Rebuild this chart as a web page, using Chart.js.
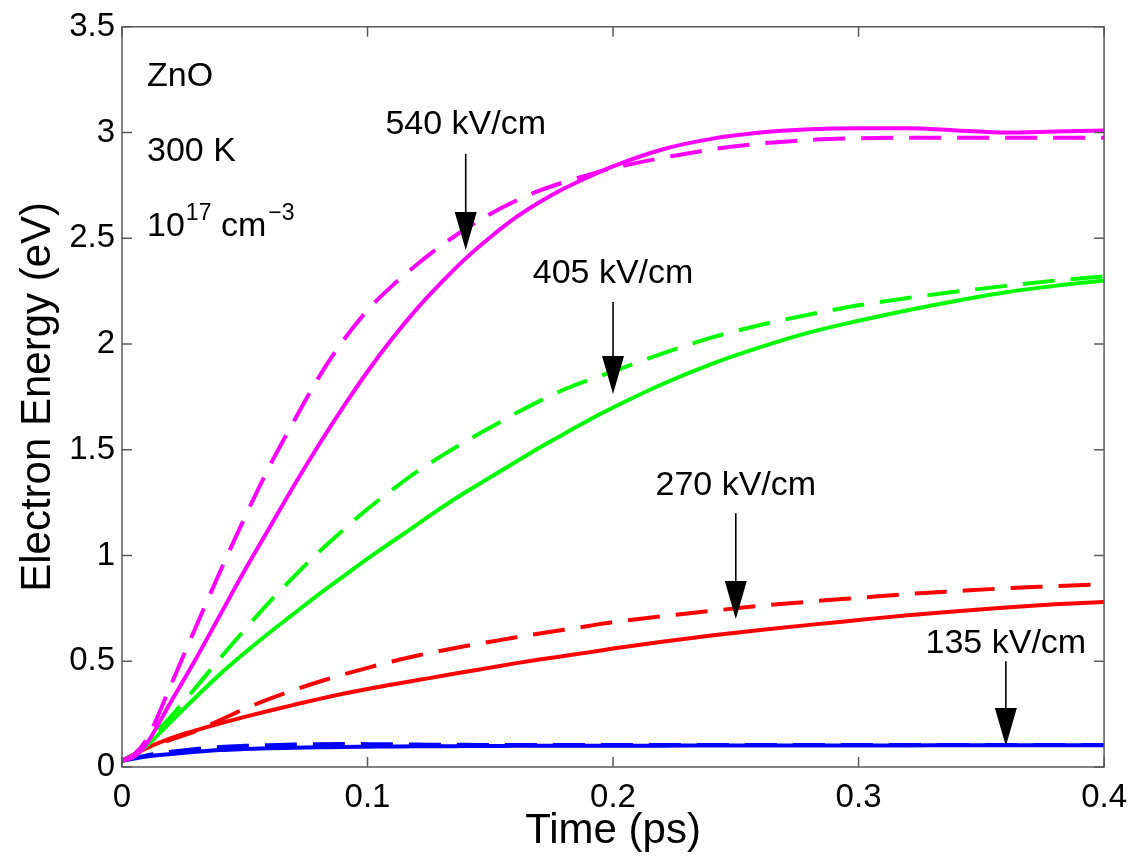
<!DOCTYPE html>
<html>
<head>
<meta charset="utf-8">
<script src="https://cdn.jsdelivr.net/npm/chart.js@4.4.1/dist/chart.umd.min.js"></script>
<style>
  html, body { margin: 0; padding: 0; background: #fff; }
  canvas { display: block; }
</style>
</head>
<body>
<canvas id="energyChart" width="1138" height="862"></canvas>
<script>
// datos: energia media del electron en ZnO
const timePs = [0, 0.005, 0.01, 0.02, 0.03, 0.04, 0.05, 0.06, 0.07, 0.08, 0.09, 0.10, 0.11, 0.12, 0.13, 0.14,
  0.15, 0.16, 0.17, 0.18, 0.19, 0.20, 0.22, 0.24, 0.26, 0.28, 0.30, 0.32, 0.34, 0.36, 0.38, 0.40];

const e540Solid = [0.03, 0.05, 0.11, 0.31, 0.51, 0.72, 0.93, 1.13, 1.33, 1.52, 1.70, 1.87, 2.025, 2.165, 2.29, 2.405,
  2.505, 2.595, 2.67, 2.735, 2.79, 2.84, 2.92, 2.97, 3.0, 3.015, 3.02, 3.02, 3.01, 3.00, 3.005, 3.01];
const e540Dashed = [0.03, 0.06, 0.13, 0.39, 0.66, 0.925, 1.18, 1.42, 1.635, 1.84, 2.015, 2.16, 2.275, 2.375, 2.465, 2.545,
  2.615, 2.675, 2.725, 2.765, 2.80, 2.832, 2.88, 2.92, 2.948, 2.965, 2.973, 2.975, 2.975, 2.975, 2.975, 2.975];

const e405Solid = [0.03, 0.055, 0.10, 0.215, 0.33, 0.44, 0.54, 0.635, 0.725, 0.815, 0.90, 0.985, 1.065, 1.145, 1.225, 1.30,
  1.37, 1.44, 1.51, 1.575, 1.64, 1.70, 1.81, 1.905, 1.985, 2.055, 2.11, 2.16, 2.205, 2.245, 2.275, 2.30];
const e405Dashed = [0.03, 0.06, 0.12, 0.24, 0.375, 0.515, 0.65, 0.78, 0.90, 1.015, 1.12, 1.22, 1.31, 1.395, 1.47, 1.54,
  1.605, 1.67, 1.73, 1.785, 1.83, 1.87, 1.955, 2.03, 2.09, 2.14, 2.183, 2.218, 2.248, 2.275, 2.30, 2.32];

const e270Solid = [0.03, 0.06, 0.09, 0.137, 0.173, 0.206, 0.237, 0.266, 0.294, 0.321, 0.346, 0.369, 0.39, 0.41, 0.43, 0.45,
  0.47, 0.49, 0.508, 0.525, 0.542, 0.56, 0.592, 0.622, 0.648, 0.672, 0.695, 0.718, 0.737, 0.754, 0.769, 0.78];
const e270Dashed = [0.03, 0.06, 0.09, 0.13, 0.17, 0.222, 0.275, 0.322, 0.364, 0.402, 0.437, 0.469, 0.499, 0.526, 0.55, 0.572,
  0.592, 0.612, 0.631, 0.649, 0.667, 0.685, 0.713, 0.738, 0.762, 0.782, 0.80, 0.818, 0.832, 0.845, 0.855, 0.865];

const e135Solid = [0.03, 0.04, 0.05, 0.062, 0.072, 0.08, 0.085, 0.089, 0.091, 0.093, 0.095, 0.096, 0.097, 0.098, 0.098, 0.099,
  0.099, 0.100, 0.100, 0.100, 0.101, 0.101, 0.101, 0.102, 0.102, 0.102, 0.102, 0.102, 0.103, 0.103, 0.103, 0.103];
const e135Dashed = [0.03, 0.042, 0.055, 0.072, 0.085, 0.095, 0.100, 0.103, 0.106, 0.108, 0.109, 0.108, 0.107, 0.106, 0.105, 0.105,
  0.104, 0.104, 0.104, 0.104, 0.104, 0.104, 0.104, 0.104, 0.104, 0.104, 0.104, 0.104, 0.104, 0.104, 0.104, 0.104];

// flechas con etiqueta (tiempo, punta, cola, linea base del texto)
const arrowLabels = ['540 kV/cm', '405 kV/cm', '270 kV/cm', '135 kV/cm'];
const arrowTime = [0.14, 0.20, 0.25, 0.36];
const arrowTipE = [2.445, 1.764, 0.700, 0.099];
const arrowTailE = [2.899, 2.199, 1.200, 0.50];
const arrowTextE = [2.993, 2.289, 1.288, 0.540];

// texto de la esquina
const insetTime = 0.0102;
const insetE = [3.219, 2.864, 2.509];

const FONT = '"Liberation Sans", Arial, Helvetica, sans-serif';
Chart.defaults.font.family = FONT;
Chart.defaults.color = '#000';

const pts = vals => vals.map((v, i) => ({ x: timePs[i], y: v }));

function serie(vals, color, dashed) {
    return {
        data: pts(vals),
        borderColor: color,
        borderWidth: 4,
        borderDash: dashed ? [32, 16] : [],
        pointRadius: 0,
        fill: false,
        cubicInterpolationMode: 'monotone'
    };
}

// marco con marcas hacia dentro y anotaciones
const frameAndNotes = {
    id: 'frameAndNotes',
    afterDatasetsDraw(chart) {
        const { ctx, chartArea: a, scales: { x, y } } = chart;
        ctx.save();
        ctx.strokeStyle = '#5a5a5a';
        ctx.lineWidth = 1.5;
        ctx.strokeRect(a.left, a.top, a.right - a.left, a.bottom - a.top);
        ctx.beginPath();
        x.ticks.forEach(t => {
            const p = x.getPixelForValue(t.value);
            ctx.moveTo(p, a.bottom); ctx.lineTo(p, a.bottom - 10);
            ctx.moveTo(p, a.top); ctx.lineTo(p, a.top + 10);
        });
        y.ticks.forEach(t => {
            const p = y.getPixelForValue(t.value);
            ctx.moveTo(a.left, p); ctx.lineTo(a.left + 10, p);
            ctx.moveTo(a.right, p); ctx.lineTo(a.right - 10, p);
        });
        ctx.stroke();

        // flechas
        ctx.fillStyle = '#000';
        ctx.strokeStyle = '#000';
        arrowLabels.forEach((lab, i) => {
            const px = x.getPixelForValue(arrowTime[i]);
            const tip = y.getPixelForValue(arrowTipE[i]);
            const tail = y.getPixelForValue(arrowTailE[i]);
            ctx.lineWidth = 1.6;
            ctx.beginPath();
            ctx.moveTo(px, tail); ctx.lineTo(px, tip - 30);
            ctx.stroke();
            ctx.beginPath();
            ctx.moveTo(px, tip);
            ctx.lineTo(px - 11, tip - 38);
            ctx.lineTo(px + 11, tip - 38);
            ctx.closePath();
            ctx.fill();
            ctx.font = '34px ' + FONT;
            ctx.textAlign = 'center';
            ctx.textBaseline = 'alphabetic';
            ctx.fillText(lab, px, y.getPixelForValue(arrowTextE[i]));
        });

        // ZnO, 300 K, 10^17 cm^-3
        const ix = x.getPixelForValue(insetTime);
        ctx.textAlign = 'left';
        ctx.font = '34px ' + FONT;
        ctx.fillText('ZnO', ix, y.getPixelForValue(insetE[0]));
        ctx.fillText('300 K', ix, y.getPixelForValue(insetE[1]));
        const by = y.getPixelForValue(insetE[2]);
        let cx = ix;
        ctx.fillText('10', cx, by);
        cx += ctx.measureText('10').width + 1;
        ctx.font = '23px ' + FONT;
        ctx.fillText('17', cx, by - 16);
        cx += ctx.measureText('17').width;
        ctx.font = '34px ' + FONT;
        ctx.fillText(' cm', cx, by);
        cx += ctx.measureText(' cm').width + 2;
        ctx.font = '23px ' + FONT;
        ctx.fillText('\u22123', cx, by - 16);
        ctx.restore();
    }
};

const chart = new Chart(document.getElementById('energyChart').getContext('2d'), {
    type: 'line',
    data: {
        datasets: [
            serie(e540Dashed, '#ff00ff', true),
            serie(e540Solid, '#ff00ff', false),
            serie(e405Dashed, '#00ff00', true),
            serie(e405Solid, '#00ff00', false),
            serie(e270Dashed, '#ff0000', true),
            serie(e270Solid, '#ff0000', false),
            serie(e135Dashed, '#0000ff', true),
            serie(e135Solid, '#0000ff', false)
        ]
    },
    options: {
        responsive: false,
        animation: false,
        layout: { padding: { top: 22, right: 33, left: 0, bottom: 0 } },
        plugins: { legend: { display: false }, tooltip: { enabled: false } },
        scales: {
            x: {
                type: 'linear',
                min: 0, max: 0.4,
                grid: { display: false, drawTicks: false },
                border: { display: false },
                ticks: {
                    stepSize: 0.1, autoSkip: false, padding: 11, maxRotation: 0,
                    font: { size: 33 },
                    callback: v => String(Math.round(v * 10) / 10)
                },
                title: { display: true, text: 'Time (ps)', font: { size: 42 }, padding: { top: 0, bottom: 5 } },
                afterFit: s => { s.height = 95; }
            },
            y: {
                min: 0, max: 3.5,
                grid: { display: false, drawTicks: false },
                border: { display: false },
                ticks: {
                    stepSize: 0.5, autoSkip: false, padding: 7,
                    font: { size: 33 },
                    callback: v => String(Math.round(v * 2) / 2)
                },
                title: { display: true, text: 'Electron Energy (eV)', font: { size: 42 }, padding: { top: 13, bottom: 0 } },
                afterFit: s => { s.width = 122; }
            }
        }
    },
    plugins: [frameAndNotes]
});
</script>
</body>
</html>
